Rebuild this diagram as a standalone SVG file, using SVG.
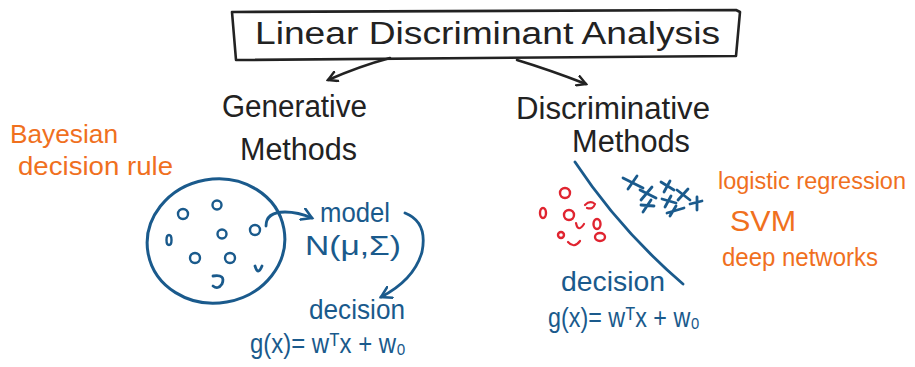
<svg xmlns="http://www.w3.org/2000/svg" width="915" height="367" viewBox="0 0 915 367">
<defs>
<style>
text{font-family:"Liberation Sans","DejaVu Sans",sans-serif;}
.k{fill:#222;font-size:31px;}
.b{fill:#1a5a8c;font-size:28px;}
.o{fill:#f0701e;font-size:26px;}
.ln{fill:none;stroke-linecap:round;stroke-linejoin:round;}
.kl{stroke:#222;stroke-width:2.6;}
.bl{stroke:#1a5a8c;stroke-width:2.8;}
.rl{stroke:#e02430;stroke-width:2.2;}
.dot{fill:none;stroke:#1a5a8c;stroke-width:2.4;}
.rdot{fill:none;stroke:#e02430;stroke-width:2.4;}
</style>
<marker id="ak" viewBox="0 0 12 12" refX="10" refY="6" markerWidth="12" markerHeight="12" markerUnits="userSpaceOnUse" orient="auto"><path d="M1,1 L10,6 L1,11" fill="none" stroke="#222" stroke-width="2.4" stroke-linecap="round"/></marker>
<marker id="ab" viewBox="0 0 14 14" refX="11" refY="7" markerWidth="14" markerHeight="14" markerUnits="userSpaceOnUse" orient="auto"><path d="M1,1 L11,7 L1,13" fill="none" stroke="#1a5a8c" stroke-width="2.6" stroke-linecap="round"/></marker>
</defs>

<g id="title">
<path class="ln kl" d="M232,12 L736,10 L740,12 L736,56 L236,60 Z"/>
<text class="k" x="255" y="44" textLength="465" lengthAdjust="spacingAndGlyphs" style="font-size:31px">Linear Discriminant Analysis</text>
</g>

<g id="generative">
<text class="k" x="222" y="117" textLength="145" lengthAdjust="spacingAndGlyphs">Generative</text>
<text class="k" x="240" y="160" textLength="117" lengthAdjust="spacingAndGlyphs">Methods</text>
</g>

<g id="discriminative">
<text class="k" x="516" y="119" textLength="194" lengthAdjust="spacingAndGlyphs">Discriminative</text>
<text class="k" x="572" y="152" textLength="118" lengthAdjust="spacingAndGlyphs">Methods</text>
</g>

<g id="bayesian">
<text class="o" x="10" y="143" textLength="108" lengthAdjust="spacingAndGlyphs">Bayesian</text>
<text class="o" x="18" y="175" textLength="155" lengthAdjust="spacingAndGlyphs">decision rule</text>
</g>

<g id="data-cloud">
<ellipse cx="216" cy="241" rx="69" ry="62" fill="none" stroke="#1a5a8c" stroke-width="3" transform="rotate(-10 216 241)"/>
<circle class="dot" cx="183" cy="214" r="5"/>
<circle class="dot" cx="217" cy="205" r="4.5"/>
<ellipse class="dot" cx="169" cy="240" rx="2.5" ry="5"/>
<circle class="dot" cx="222" cy="234" r="4.5"/>
<circle class="dot" cx="255" cy="230" r="5"/>
<circle class="dot" cx="195" cy="258" r="5"/>
<circle class="dot" cx="230" cy="258" r="5"/>
<path class="ln bl" d="M255,266 Q258,276 262,266"/>
<path class="ln bl" d="M213,276 Q226,274 222,284 Q218,290 213,286"/>
</g>

<g id="model">
<text class="b" x="320" y="222" textLength="70" lengthAdjust="spacingAndGlyphs">model</text>
<text class="b" x="305" y="255" textLength="96" lengthAdjust="spacingAndGlyphs">N(μ,Σ)</text>
</g>

<g id="gen-decision">
<text class="b" x="309" y="319" textLength="96" lengthAdjust="spacingAndGlyphs">decision</text>
<text class="b" x="250" y="353" textLength="156" lengthAdjust="spacingAndGlyphs">g(x)= wᵀx + w₀</text>
</g>

<g id="classes">
<path class="ln bl" d="M575,162 Q620,230 683,284"/>
<circle class="rdot" cx="565" cy="193" r="5"/>
<ellipse class="rdot" cx="543" cy="213" rx="3" ry="5"/>
<circle class="rdot" cx="569" cy="215" r="5"/>
<path class="ln rl" d="M585,205 Q590,200 595,204 Q593,210 587,208"/>
<ellipse class="rdot" cx="597" cy="224" rx="3.5" ry="5"/>
<path class="ln rl" d="M576,223 Q578,233 584,224"/>
<circle class="rdot" cx="561" cy="235" r="3"/>
<path class="ln rl" d="M568,242 Q574,249 580,241"/>
<ellipse class="rdot" cx="600" cy="237" rx="5" ry="4"/>
<g class="ln bl" stroke-width="2.4">
<path d="M623,178 L643,188 M637,176 L628,189"/>
<path d="M640,190 L656,198 M652,187 L641,200"/>
<path d="M661,182 L674,190 M670,181 L664,192"/>
<path d="M677,190 L690,200 M688,189 L678,200"/>
<path d="M641,205 L654,206 M651,200 L643,212"/>
<path d="M662,199 L676,203 M671,196 L665,207"/>
<path d="M690,204 L702,201 M697,197 L697,210"/>
<path d="M667,213 L684,208 M676,206 L670,216"/>
</g>
</g>

<g id="methods-list">
<text class="o" x="718" y="189" textLength="188" lengthAdjust="spacingAndGlyphs" style="font-size:23px">logistic regression</text>
<text class="o" x="730" y="231" textLength="66" lengthAdjust="spacingAndGlyphs" style="font-size:30px">SVM</text>
<text class="o" x="722" y="266" textLength="156" lengthAdjust="spacingAndGlyphs">deep networks</text>
</g>

<g id="disc-decision">
<text class="b" x="561" y="291" textLength="104" lengthAdjust="spacingAndGlyphs">decision</text>
<text class="b" x="548" y="327" textLength="152" lengthAdjust="spacingAndGlyphs">g(x)= wᵀx + w₀</text>
</g>

<g id="connectors">
<path class="ln kl" d="M390,58 Q360,66 328,80" marker-end="url(#ak)"/>
<path class="ln kl" d="M517,60 Q550,70 586,84" marker-end="url(#ak)"/>
<path class="ln bl" d="M266,226 Q266,212 285,212 Q298,212 312,218" marker-end="url(#ab)"/>
<path class="ln bl" d="M405,213 Q428,222 422,252 Q414,280 381,297" marker-end="url(#ab)"/>
</g>
</svg>
